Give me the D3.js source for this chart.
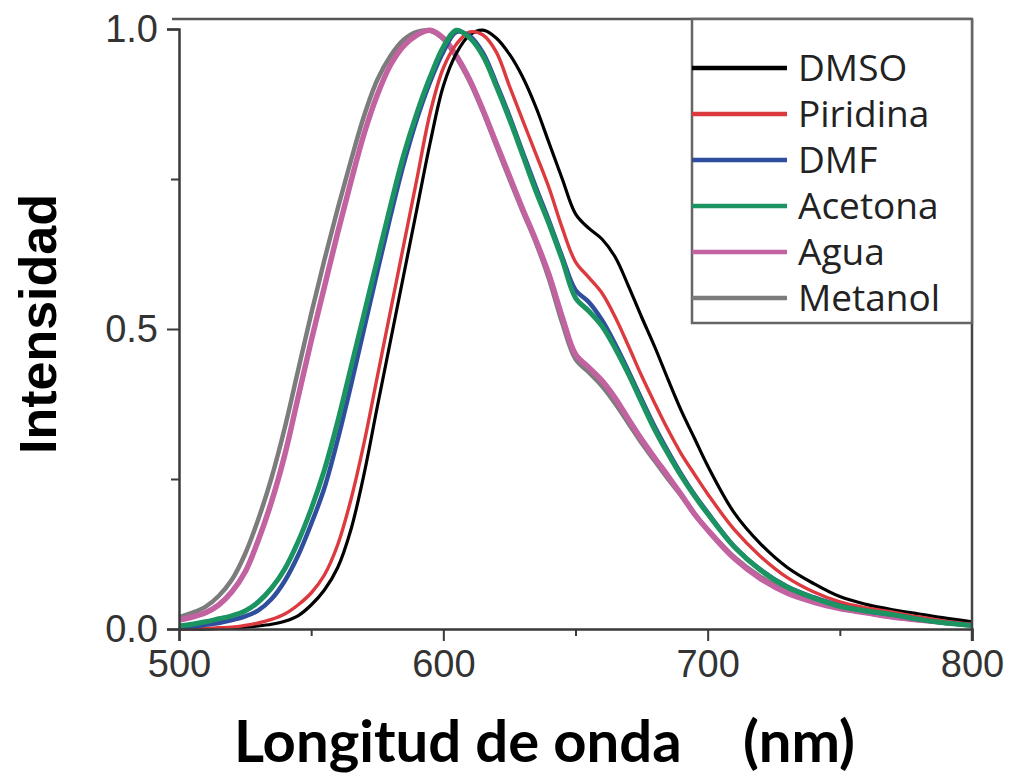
<!DOCTYPE html>
<html>
<head>
<meta charset="utf-8">
<script src="https://cdn.jsdelivr.net/npm/d3@7"></script>
<style>
  body { margin: 0; background: #fff; }
  svg { display: block; }
</style>
</head>
<body>
<div id="container"></div>
<script>
// wavelengths (nm) shared by every spectrum
var wavelengths = [500,505,510,515,520,525,530,535,540,545,550,555,560,565,570,575,580,585,590,595,
  600,605,610,615,620,625,630,635,640,645,650,655,660,665,670,675,680,685,690,695,700,
  710,720,730,740,750,760,770,780,790,800];

// normalised intensity
var dmso = [0.000,0.000,0.000,0.001,0.002,0.003,0.005,0.008,0.013,0.022,0.040,0.065,0.102,0.165,0.258,0.370,0.480,0.590,0.700,0.810,
  0.905,0.960,0.990,0.998,0.985,0.958,0.920,0.870,0.810,0.750,0.692,0.668,0.650,0.620,0.572,0.520,0.470,0.416,0.364,0.318,0.272,
  0.194,0.142,0.103,0.076,0.054,0.041,0.032,0.025,0.018,0.012];
var piridina = [0.000,0.000,0.001,0.002,0.003,0.006,0.010,0.016,0.025,0.040,0.060,0.090,0.140,0.215,0.310,0.420,0.530,0.640,0.750,0.860,
  0.935,0.975,0.995,0.990,0.962,0.905,0.848,0.792,0.735,0.668,0.612,0.586,0.560,0.520,0.472,0.422,0.376,0.332,0.292,0.258,0.225,
  0.166,0.121,0.086,0.062,0.045,0.035,0.028,0.020,0.013,0.008];
var dmf = [0.002,0.004,0.007,0.010,0.015,0.021,0.031,0.050,0.080,0.122,0.175,0.235,0.315,0.405,0.500,0.595,0.688,0.775,0.850,0.912,
  0.962,0.995,0.988,0.960,0.910,0.855,0.795,0.736,0.680,0.620,0.565,0.545,0.515,0.475,0.430,0.383,0.337,0.296,0.258,0.224,0.194,
  0.138,0.099,0.071,0.053,0.039,0.030,0.024,0.016,0.010,0.006];
var acetona = [0.005,0.008,0.012,0.017,0.022,0.030,0.045,0.068,0.100,0.145,0.200,0.265,0.345,0.435,0.525,0.615,0.705,0.790,0.860,0.920,
  0.970,0.998,0.985,0.955,0.905,0.850,0.790,0.730,0.675,0.615,0.552,0.530,0.505,0.468,0.425,0.378,0.332,0.292,0.255,0.222,0.192,
  0.137,0.098,0.070,0.052,0.038,0.030,0.024,0.016,0.010,0.006];
var agua = [0.015,0.020,0.027,0.040,0.062,0.095,0.148,0.212,0.290,0.385,0.480,0.570,0.660,0.745,0.825,0.890,0.940,0.972,0.990,0.998,
  0.985,0.955,0.915,0.865,0.810,0.755,0.700,0.648,0.590,0.520,0.458,0.436,0.414,0.385,0.350,0.316,0.285,0.255,0.224,0.192,0.165,
  0.118,0.084,0.060,0.045,0.034,0.027,0.020,0.015,0.011,0.008];
var metanol = [0.020,0.027,0.037,0.055,0.082,0.125,0.183,0.252,0.335,0.430,0.525,0.615,0.700,0.780,0.855,0.915,0.955,0.982,0.995,0.997,
  0.983,0.952,0.912,0.862,0.806,0.750,0.696,0.644,0.583,0.510,0.450,0.428,0.405,0.376,0.343,0.310,0.280,0.250,0.222,0.191,0.166,
  0.120,0.087,0.063,0.047,0.035,0.027,0.020,0.015,0.011,0.008];

var seriesNames = ["DMSO", "Piridina", "DMF", "Acetona", "Agua", "Metanol"];
var seriesValues = [dmso, piridina, dmf, acetona, agua, metanol];
var xTicks = [500, 600, 700, 800];
var xMinorTicks = [550, 650, 750];
var yTicks = [0.0, 0.5, 1.0];
var yMinorTicks = [0.25, 0.75];

var colors = {DMSO: "#000000", Piridina: "#dc3a3e", DMF: "#2f4e9e", Acetona: "#1b9462", Agua: "#c262a0", Metanol: "#7c7c7c"};
var widths = {DMSO: 3.2, Piridina: 3.4, DMF: 4.5, Acetona: 5, Agua: 5.5, Metanol: 4.5};
// draw order (back to front)
var drawOrder = ["Metanol", "Agua", "DMSO", "Piridina", "DMF", "Acetona"];

var W = 1013, H = 776;
var margin = {top: 29, right: 41, bottom: 147, left: 179};
var width = W - margin.left - margin.right,
    height = H - margin.top - margin.bottom;

var svg = d3.select("#container").append("svg")
  .attr("width", W).attr("height", H);

var g = svg.append("g")
  .attr("transform", "translate(" + margin.left + "," + margin.top + ")");

var x = d3.scaleLinear().domain([500, 800]).range([0, width]);
var y = d3.scaleLinear().domain([0, 1]).range([height, 0]);

var axisColor = "#3a3a3a";
var tickFont = "'Liberation Sans', Arial, sans-serif";

// curves
var line = d3.line()
  .x(function(d) { return x(d[0]); })
  .y(function(d) { return y(d[1]); })
  .curve(d3.curveCatmullRom.alpha(0.5));

drawOrder.forEach(function(name) {
  var vals = seriesValues[seriesNames.indexOf(name)];
  var pts = wavelengths.map(function(w, i) { return [w, vals[i]]; });
  g.append("path")
    .datum(pts)
    .attr("fill", "none")
    .attr("stroke", colors[name])
    .attr("stroke-width", widths[name])
    .attr("stroke-linejoin", "round")
    .attr("d", line);
});

// frame: top and right borders
var frameTop = -10;
g.append("line")
  .attr("x1", -7).attr("x2", width)
  .attr("y1", frameTop).attr("y2", frameTop)
  .attr("stroke", "#555").attr("stroke-width", 2.5);
g.append("line")
  .attr("x1", width).attr("x2", width)
  .attr("y1", frameTop).attr("y2", height + 12)
  .attr("stroke", "#444").attr("stroke-width", 2.5);

// x axis
g.append("g")
  .attr("transform", "translate(0," + height + ")")
  .call(d3.axisBottom(x).tickValues(xTicks).tickSize(12).tickPadding(9).tickFormat(d3.format("d")));
g.append("g")
  .attr("transform", "translate(0," + height + ")")
  .call(d3.axisBottom(x).tickValues(xMinorTicks).tickSize(7).tickFormat(""))
  .select(".domain").remove();

// y axis
g.append("g")
  .call(d3.axisLeft(y).tickValues(yTicks).tickSize(12).tickPadding(9).tickFormat(d3.format(".1f")));
g.append("g")
  .call(d3.axisLeft(y).tickValues(yMinorTicks).tickSize(8).tickFormat(""))
  .select(".domain").remove();

g.selectAll(".domain").attr("stroke", axisColor).attr("stroke-width", 2.5);
g.selectAll(".tick line").attr("stroke", axisColor).attr("stroke-width", 2);
g.selectAll(".tick text")
  .attr("fill", "#333")
  .style("font-family", tickFont)
  .style("font-size", "38px");

// legend
var legend = g.append("g")
  .attr("transform", "translate(" + (692 - margin.left) + "," + frameTop + ")");
legend.append("rect")
  .attr("x", 0).attr("y", 0)
  .attr("width", width - (692 - margin.left)).attr("height", 304)
  .attr("fill", "#fff")
  .attr("stroke", "#666").attr("stroke-width", 2.5);

var items = legend.selectAll(".legend")
  .data(seriesNames).enter()
  .append("g")
    .attr("class", "legend")
    .attr("transform", function(d, i) { return "translate(0," + (49 + i * 46) + ")"; });

items.append("line")
  .attr("x1", 0).attr("x2", 95)
  .attr("stroke", function(d) { return colors[d]; })
  .attr("stroke-width", 4.5);

items.append("text")
  .attr("x", 106)
  .attr("dy", "0.36em")
  .style("font-family", "'Open Sans', sans-serif")
  .style("font-size", "37px")
  .attr("fill", "#222")
  .text(function(d) { return d; });

// axis titles
svg.append("text")
  .attr("transform", "translate(56,324) rotate(-90)")
  .attr("text-anchor", "middle")
  .style("font-family", tickFont)
  .style("font-weight", "bold")
  .style("font-size", "52px")
  .attr("fill", "#000")
  .text("Intensidad");

svg.append("text")
  .attr("x", 234).attr("y", 762)
  .style("font-family", "Lato, sans-serif")
  .style("font-weight", "bold")
  .style("font-size", "58px")
  .attr("fill", "#000")
  .text("Longitud de onda");

svg.append("text")
  .attr("x", 743).attr("y", 762)
  .style("font-family", "Lato, sans-serif")
  .style("font-weight", "bold")
  .style("font-size", "58px")
  .attr("fill", "#000")
  .text("(nm)");
</script>
</body>
</html>
